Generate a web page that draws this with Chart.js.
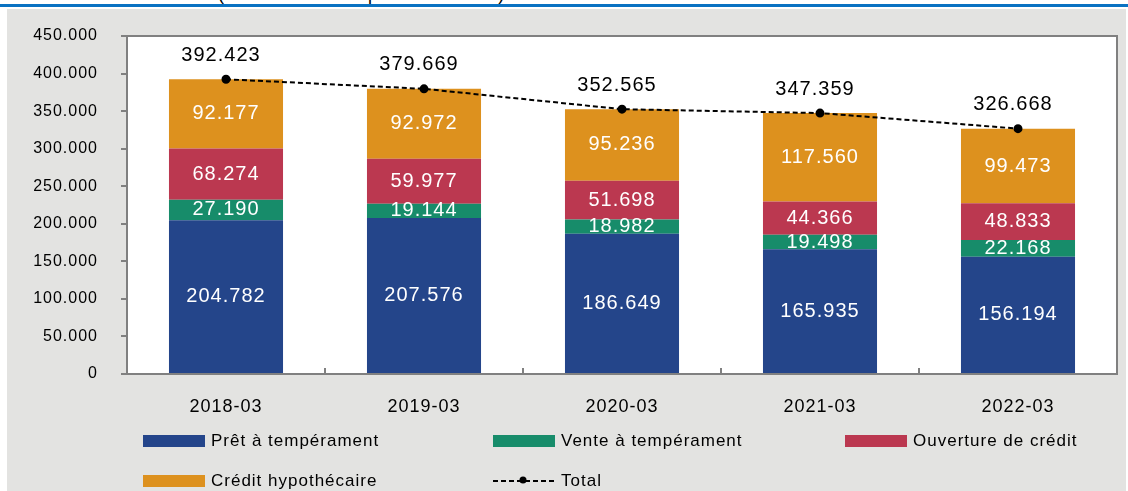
<!DOCTYPE html>
<html>
<head>
<meta charset="utf-8">
<script src="https://cdn.jsdelivr.net/npm/chart.js@4"></script>
<style>
  body { margin: 0; background: #fff; width: 1128px; height: 491px; overflow: hidden; position: relative; font-family: "Liberation Sans", Arial, sans-serif; }
  #subtitle { position: absolute; left: 218px; top: -15px; font-size: 18px; line-height: 18px; color: #000; white-space: nowrap; }
  #topline { position: absolute; left: 0; top: 4px; width: 1128px; height: 3px; background: #0a72c2; }
  #panel { position: absolute; left: 7px; top: 9px; width: 1119px; height: 482px; background: #e3e3e1; }
  #chart { position: absolute; left: 0; top: 0; }
</style>
</head>
<body>
<div id="subtitle">(Encours total des prêts en millions)</div>
<div id="topline"></div>
<div id="panel"><canvas id="chart" width="1119" height="482"></canvas></div>
<script>
// chart values
const categories = ["2018-03", "2019-03", "2020-03", "2021-03", "2022-03"];
const pretTemperament = [204782, 207576, 186649, 165935, 156194];
const venteTemperament = [27190, 19144, 18982, 19498, 22168];
const ouvertureCredit = [68274, 59977, 51698, 44366, 48833];
const creditHypothecaire = [92177, 92972, 95236, 117560, 99473];
const totals = [392423, 379669, 352565, 347359, 326668];

const FONT = '"Liberation Sans", Arial, sans-serif';

function fmt(v) {
    return String(v).replace(/\B(?=(\d{3})+(?!\d))/g, ".");
}

// plot area background + frame + inward ticks on x axis
const framePlugin = {
    id: "frame",
    beforeDraw(chart) {
        const a = chart.chartArea;
        const ctx = chart.ctx;
        // all text in the original is slightly spaced out
        ctx.letterSpacing = "1px";
        ctx.save();
        ctx.fillStyle = "#ffffff";
        ctx.fillRect(a.left, a.top, a.right - a.left, a.bottom - a.top);
        ctx.restore();
    },
    afterDraw(chart) {
        const a = chart.chartArea;
        const ctx = chart.ctx;
        ctx.save();
        ctx.strokeStyle = "#808080";
        ctx.lineWidth = 2;
        ctx.strokeRect(a.left, a.top, a.right - a.left, a.bottom - a.top);
        // ticks between categories
        const xs = chart.scales.x;
        const step = xs.getPixelForValue(1) - xs.getPixelForValue(0);
        for (let i = 1; i < categories.length; i++) {
            const px = Math.round(xs.getPixelForValue(i) - step / 2);
            ctx.beginPath();
            ctx.moveTo(px, a.bottom);
            ctx.lineTo(px, a.bottom - 6);
            ctx.stroke();
        }
        ctx.restore();
    }
};

// value labels in bars and above the total line
const labelPlugin = {
    id: "labels",
    afterDatasetsDraw(chart) {
        const ctx = chart.ctx;
        ctx.save();
        ctx.textAlign = "center";
        ctx.textBaseline = "middle";
        chart.data.datasets.forEach((ds, di) => {
            const meta = chart.getDatasetMeta(di);
            meta.data.forEach((el, i) => {
                if (ds.type === "line") {
                    ctx.fillStyle = "#000";
                    ctx.font = "20px " + FONT;
                    ctx.fillText(fmt(ds.data[i]), el.x - 5, el.y - 24);
                } else {
                    ctx.fillStyle = "#fff";
                    ctx.font = "20px " + FONT;
                    ctx.fillText(fmt(ds.data[i]), el.x, (el.y + el.base) / 2);
                }
            });
        });
        ctx.restore();
    }
};

// legend at fixed positions under the chart
const legendPlugin = {
    id: "legendGrid",
    afterDraw(chart) {
        const ctx = chart.ctx;
        const cols = [136, 486, 838];
        const rows = [432, 472];
        ctx.save();
        ctx.font = "17px " + FONT;
        ctx.textBaseline = "middle";
        ctx.textAlign = "left";
        chart.data.datasets.forEach((ds, i) => {
            const x = cols[i % 3];
            const y = rows[Math.floor(i / 3)];
            if (ds.type === "line") {
                ctx.strokeStyle = "#000";
                ctx.lineWidth = 2;
                ctx.setLineDash([5, 3]);
                ctx.beginPath();
                ctx.moveTo(x, y);
                ctx.lineTo(x + 64, y);
                ctx.stroke();
                ctx.setLineDash([]);
                ctx.fillStyle = "#000";
                ctx.beginPath();
                ctx.arc(x + 30, y - 1, 3.5, 0, Math.PI * 2);
                ctx.fill();
            } else {
                ctx.fillStyle = ds.backgroundColor;
                ctx.fillRect(x, y - 6, 62, 12);
            }
            ctx.fillStyle = "#000";
            ctx.fillText(ds.label, x + 68, y);
        });
        ctx.restore();
    }
};

new Chart(document.getElementById("chart"), {
    data: {
        labels: categories,
        datasets: [
            { type: "bar", label: "Prêt à tempérament", data: pretTemperament, backgroundColor: "#24458a", stack: "s", order: 2 },
            { type: "bar", label: "Vente à tempérament", data: venteTemperament, backgroundColor: "#178c6a", stack: "s", order: 2 },
            { type: "bar", label: "Ouverture de crédit", data: ouvertureCredit, backgroundColor: "#bb3850", stack: "s", order: 2 },
            { type: "bar", label: "Crédit hypothécaire", data: creditHypothecaire, backgroundColor: "#dd911e", stack: "s", order: 2 },
            {
                type: "line", label: "Total", data: totals, borderColor: "#000", borderWidth: 2,
                borderDash: [5, 3], pointRadius: 3.5, pointBackgroundColor: "#000", pointBorderColor: "#000",
                fill: false, order: 1, stack: "t"
            }
        ]
    },
    options: {
        responsive: false,
        animation: false,
        layout: { padding: { left: 0, right: 9, top: 27, bottom: 0 } },
        datasets: { bar: { barPercentage: 0.576, categoryPercentage: 1 } },
        plugins: { legend: { display: false }, tooltip: { enabled: false } },
        scales: {
            x: {
                stacked: true,
                grid: { display: false },
                border: { color: "#808080", width: 2 },
                ticks: { color: "#000", font: { family: FONT, size: 18 }, padding: 14 },
                afterFit(scale) { scale.height = 117; scale.paddingLeft = 0; scale.paddingRight = 0; }
            },
            y: {
                stacked: true,
                min: 0,
                max: 450000,
                ticks: { stepSize: 50000, color: "#000", font: { family: FONT, size: 16 }, padding: 23, callback: (v) => fmt(v) },
                grid: { drawOnChartArea: false, drawTicks: true, tickLength: 6, color: "#808080", lineWidth: 2 },
                border: { color: "#808080", width: 2 },
                afterFit(scale) { scale.width = 120; scale.paddingTop = 0; scale.paddingBottom = 0; }
            }
        }
    },
    plugins: [framePlugin, labelPlugin, legendPlugin]
});
</script>
</body>
</html>
